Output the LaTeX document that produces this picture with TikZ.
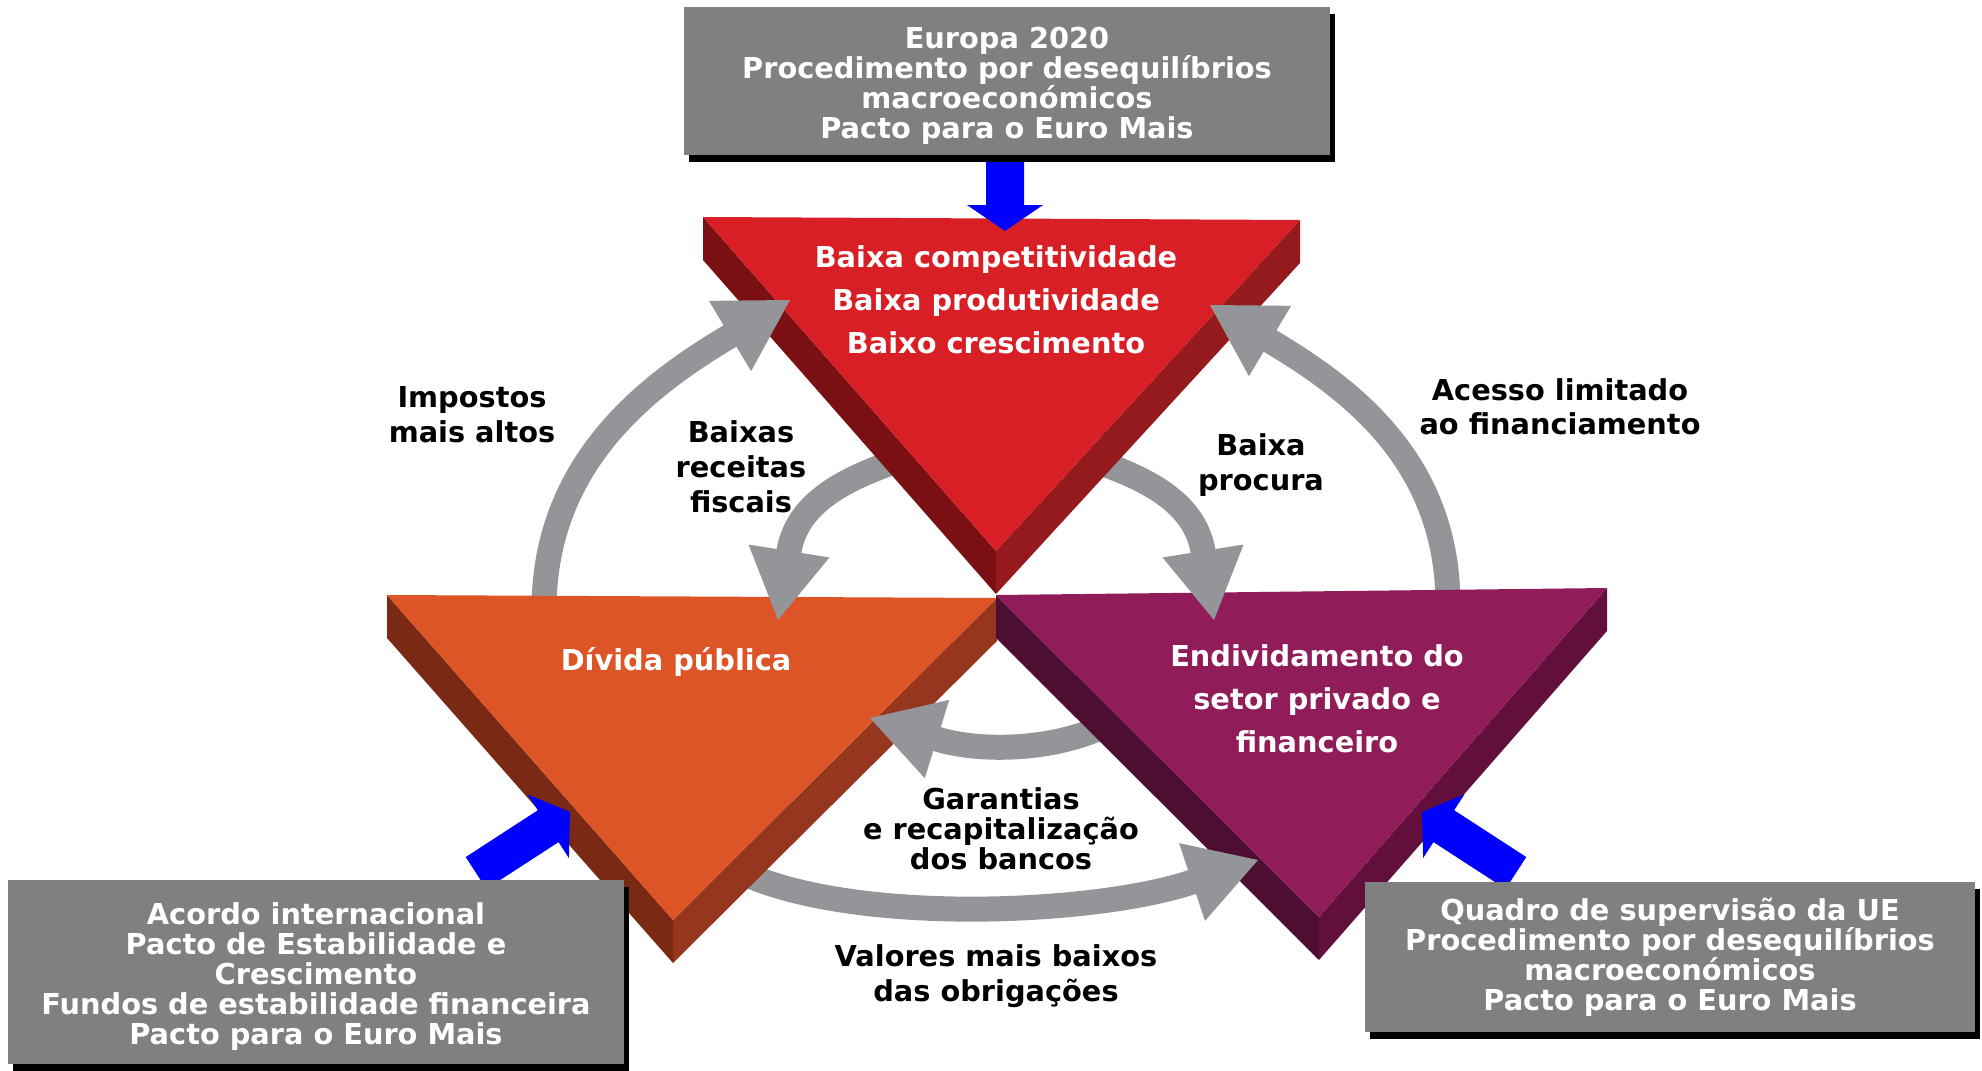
\documentclass[tikz,border=0pt]{standalone}
\usepackage{fontspec}
\setmainfont{DejaVu Sans}
\usetikzlibrary{calc,shadows}
\definecolor{boxgray}{RGB}{128,128,128}
\definecolor{arrowgray}{RGB}{147,149,152}
\definecolor{redface}{RGB}{217,31,38}
\definecolor{redleft}{RGB}{122,16,20}
\definecolor{redright}{RGB}{148,26,29}
\definecolor{orface}{RGB}{221,84,38}
\definecolor{orleft}{RGB}{122,42,20}
\definecolor{orright}{RGB}{150,54,30}
\definecolor{puface}{RGB}{145,28,90}
\definecolor{puleft}{RGB}{78,14,49}
\definecolor{puright}{RGB}{98,15,60}
\definecolor{bluearr}{RGB}{0,0,255}
% prism: TLx TLy TRx TRy Bx By face left right
\newcommand{\myprism}[9]{%
  \fill[#8] (#1,#2) -- (#5,#6) -- (#5,#6+43) -- (#1,#2+43) -- cycle;
  \fill[#9] (#5,#6) -- (#3,#4) -- (#3,#4+43) -- (#5,#6+43) -- cycle;
  \fill[#7] (#1,#2) -- (#3,#4) -- (#5,#6) -- cycle;}
% blue arrow: tip x, tip y, rotation, total length
\newcommand{\myblue}[4]{%
  \fill[bluearr, shift={(#1,#2)}, rotate=#3] (0,0) -- (-26,38) -- (-26,19) -- (-#4,19)
    -- (-#4,-19) -- (-26,-19) -- (-26,-38) -- cycle;}
\newcommand{\myhead}[2]{%
  \fill[arrowgray] (#2) -- ($(#1)!20.5pt!90:(#2)$) -- ($(#1)!20.5pt!-90:(#2)$) -- cycle;}
\begin{document}
\begin{tikzpicture}[x=0.5pt,y=-0.5pt,
  graybox/.style={fill=boxgray, inner sep=0pt,
    drop shadow={shadow xshift=2.5pt, shadow yshift=-3.5pt, opacity=1, fill=black}},
  boxtext/.style={text=white, align=center, inner sep=0pt,
    font=\bfseries\fontsize{14.4}{15}\selectfont},
  wlabel/.style={text=white, align=center, inner sep=0pt},
  blabel/.style={text=black, align=center, inner sep=0pt},
  gshaft/.style={draw=arrowgray, line width=12.5pt}]
\useasboundingbox (0,0) rectangle (1982,1071);
% coordinates of gray arrows
\coordinate (L1s) at (544,610); \coordinate (L1b) at (730,336); \coordinate (L1t) at (790,300);
\coordinate (R1s) at (1448,605); \coordinate (R1b) at (1270,341); \coordinate (R1t) at (1210,305);
\coordinate (L2s) at (900,460); \coordinate (L2b) at (789,551); \coordinate (L2t) at (778,620);
\coordinate (R2s) at (1092,460); \coordinate (R2b) at (1203,551); \coordinate (R2t) at (1214,620);
\coordinate (Gs) at (1100,728); \coordinate (Gb) at (937,739); \coordinate (Gt) at (870,718);
\coordinate (Vs) at (745,874); \coordinate (Vb) at (1192,882); \coordinate (Vt) at (1258,860);
% shafts
\draw[gshaft] (L1s) .. controls (544,465) and (644,387) .. (L1b) -- ($(L1b)!6pt!(L1t)$);
\draw[gshaft] (R1s) .. controls (1448,465) and (1356,392) .. (R1b) -- ($(R1b)!6pt!(R1t)$);
\draw[gshaft] (L2s) .. controls (840,480) and (797,505) .. (L2b) -- ($(L2b)!6pt!(L2t)$);
\draw[gshaft] (R2s) .. controls (1152,480) and (1195,505) .. (R2b) -- ($(R2b)!6pt!(R2t)$);
\draw[gshaft] (Gs) .. controls (1045,752) and (975,751) .. (Gb) -- ($(Gb)!6pt!(Gt)$);
\draw[gshaft] (Vs) .. controls (860,925) and (1097,914) .. (Vb) -- ($(Vb)!6pt!(Vt)$);
% prisms
\myprism{387}{595}{997}{598}{673}{920}{orface}{orleft}{orright}
\myprism{996}{595}{1607}{588}{1319}{917}{puface}{puleft}{puright}
\myprism{703}{217}{1300}{220}{996}{551}{redface}{redleft}{redright}
% gray heads
\myhead{L1b}{L1t}
\myhead{R1b}{R1t}
\myhead{L2b}{L2t}
\myhead{R2b}{R2t}
\myhead{Gb}{Gt}
\myhead{Vb}{Vt}
% blue arrows
\myblue{1005}{231}{-90}{100}
\myblue{570}{812}{33}{112}
\myblue{1422}{812}{147}{112}
% boxes
\node[graybox, minimum width=323pt, minimum height=74pt] (topbox) at (1007,81) {};
\node[boxtext] (toptext) at (1007,86)
  {Europa 2020\\Procedimento por desequilíbrios\\macroeconómicos\\Pacto para o Euro Mais};
\node[graybox, minimum width=308pt, minimum height=92pt] (leftbox) at (316,972) {};
\node[boxtext] (lefttext) at (316,977)
  {Acordo internacional\\Pacto de Estabilidade e\\Crescimento\\Fundos de estabilidade financeira\\Pacto para o Euro Mais};
\node[graybox, minimum width=305pt, minimum height=75pt] (rightbox) at (1670,957) {};
\node[boxtext] (righttext) at (1670,957)
  {Quadro de supervisão da UE\\Procedimento por desequilíbrios\\macroeconómicos\\Pacto para o Euro Mais};
% triangle texts
\node[wlabel, font=\bfseries\fontsize{14.4}{21.5}\selectfont] (red) at (996,300)
  {Baixa competitividade\\Baixa produtividade\\Baixo crescimento};
\node[wlabel, font=\bfseries\fontsize{14.4}{21.5}\selectfont] (orange) at (676,662) {Dívida pública};
\node[wlabel, font=\bfseries\fontsize{14.4}{21.5}\selectfont] (purple) at (1317,699)
  {Endividamento do\\setor privado e\\financeiro};
% black labels
\node[blabel, font=\bfseries\fontsize{14.4}{17.5}\selectfont] (imp) at (472,415) {Impostos\\mais altos};
\node[blabel, font=\bfseries\fontsize{14.4}{17.5}\selectfont] (rec) at (741,467) {Baixas\\receitas\\fiscais};
\node[blabel, font=\bfseries\fontsize{14.4}{17.5}\selectfont] (proc) at (1261,465) {Baixa\\procura};
\node[blabel, font=\bfseries\fontsize{14.4}{17}\selectfont] (acc) at (1560,407) {Acesso limitado\\ao financiamento};
\node[blabel, font=\bfseries\fontsize{14.4}{15}\selectfont] (gar) at (1001,829) {Garantias\\e recapitalização\\dos bancos};
\node[blabel, font=\bfseries\fontsize{14.4}{17.5}\selectfont] (val) at (996,976) {Valores mais baixos\\das obrigações};
\end{tikzpicture}
\end{document}
